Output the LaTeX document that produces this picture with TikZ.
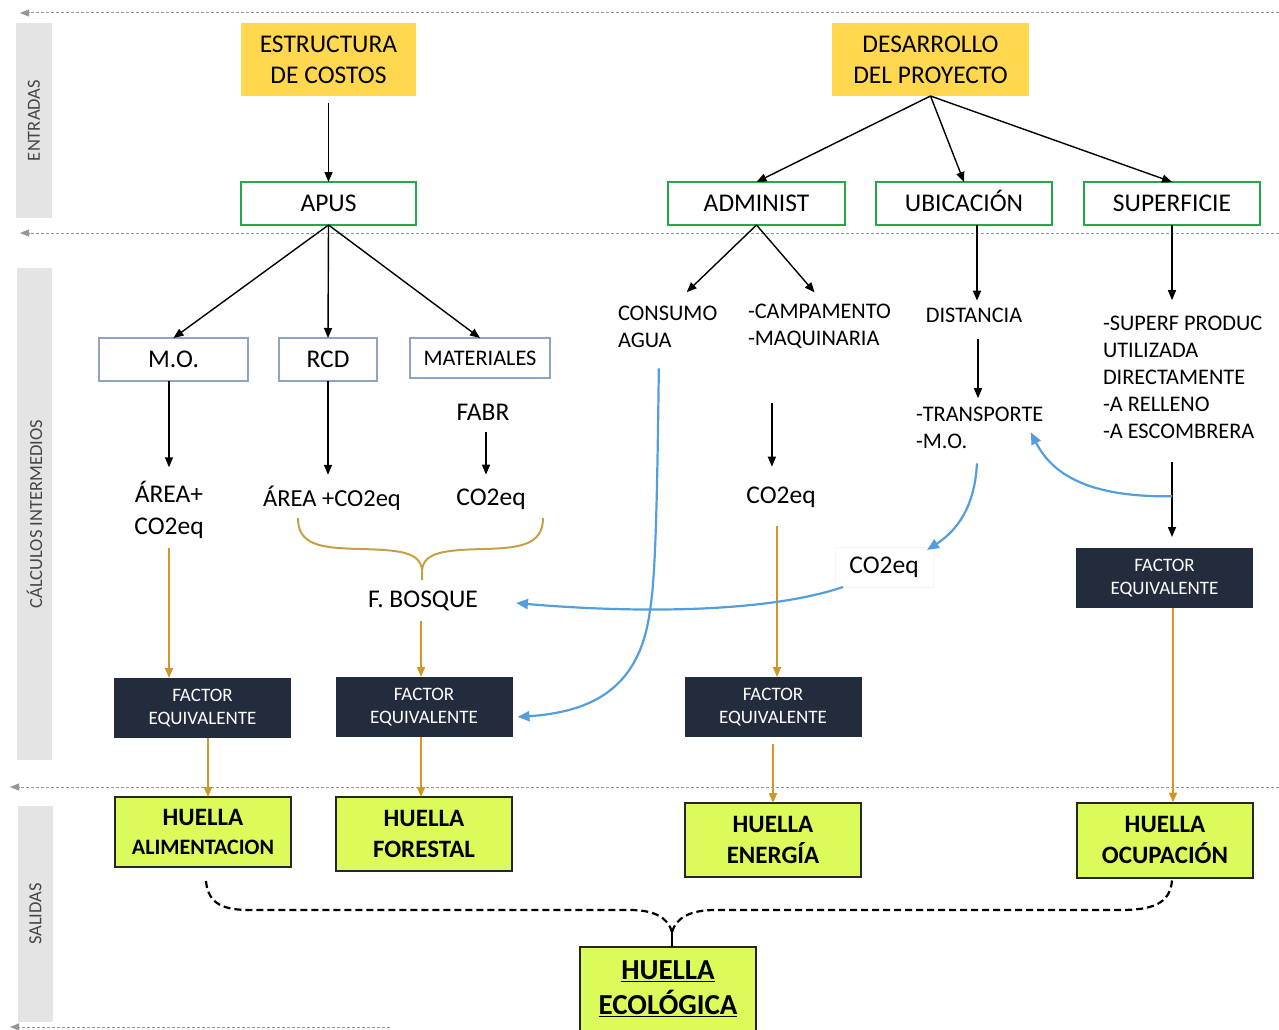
\documentclass[tikz,border=0pt]{standalone}
\usepackage{fontspec}
\setmainfont{Carlito}
\usetikzlibrary{arrows.meta}

\definecolor{cYel}{RGB}{255,216,80}
\definecolor{cGrn}{RGB}{38,168,72}
\definecolor{cSteel}{RGB}{143,163,196}
\definecolor{cNavy}{RGB}{35,44,61}
\definecolor{cLime}{RGB}{218,251,90}
\definecolor{cGold}{RGB}{206,152,40}
\definecolor{cBrace}{RGB}{198,160,70}
\definecolor{cBlue}{RGB}{84,158,222}
\definecolor{cBand}{RGB}{228,228,228}
\definecolor{cBandTxt}{RGB}{70,70,70}
\definecolor{cSep}{RGB}{150,150,150}

\begin{document}
\begin{tikzpicture}[x=1pt,y=-1pt,
  every node/.style={inner sep=0pt, outer sep=0pt},
  fbig/.style={font=\fontsize{25.5}{31}\selectfont},
  fmid/.style={font=\fontsize{22.3}{27}\selectfont},
  capbig/.style={text height=16.5pt, text depth=0pt},
  capmid/.style={text height=14.4pt, text depth=0pt},
  inbox/.style={fill=cYel, fbig, align=center},
  grnbox/.style={draw=cGrn, line width=2.2pt, fill=white, fbig, capbig, minimum height=43pt},
  blubox/.style={draw=cSteel, line width=1.2pt, fill=white},
  facbox/.style={fill=cNavy, text=white, font=\fontsize{19}{23}\selectfont, align=center,
                 minimum width=177pt, minimum height=60pt},
  outbox/.style={fill=cLime, draw=black!85, line width=2pt, align=center,
                 font=\bfseries\fontsize{25}{31}\selectfont, minimum width=176pt},
  txt/.style={fbig, align=center},
  txtm/.style={fmid, align=left},
  band/.style={fill=cBand, text=cBandTxt, rotate=90, font=\fontsize{18.5}{22}\selectfont},
  blk/.style={draw=black, line width=1.4pt, -{Triangle[length=10pt,width=8pt]}},
  gld/.style={draw=cGold, line width=2pt, -{Triangle[length=10pt,width=8pt]}},
  blu/.style={draw=cBlue, line width=2.2pt, -{Triangle[length=12pt,width=10pt]}},
  sepline/.style={draw=cSep, line width=1pt, dash pattern=on 3pt off 2pt,
                  -{Triangle[length=9pt,width=7pt]}},
  mergeline/.style={draw=black, line width=2.2pt, dash pattern=on 7pt off 4pt},
]
\useasboundingbox (0,0) rectangle (1279,1030);

% section separators
\draw[sepline] (1279,13) -- (20,13);
\draw[sepline] (1279,233) -- (20,233);
\draw[sepline] (1279,787) -- (10,787);
\draw[sepline] (390,1027) -- (10,1027);

% section bands
\node[band, minimum width=195pt, minimum height=36pt] (b1) at (34,120.5) {ENTRADAS};
\node[band, minimum width=492pt, minimum height=35pt] (b2) at (34.5,514) {CÁLCULOS INTERMEDIOS};
\node[band, minimum width=216pt, minimum height=35pt] (b3) at (35.5,914) {SALIDAS};

% inputs
\node[inbox, minimum width=175pt, minimum height=73pt] (estr) at (328.5,59.5) {ESTRUCTURA\\DE COSTOS};
\node[inbox, minimum width=197pt, minimum height=73pt] (desa) at (930.5,59.5) {DESARROLLO\\DEL PROYECTO};
\node[grnbox, minimum width=175pt] (apus) at (328.5,203.5) {APUS};
\node[grnbox, minimum width=177pt] (admin) at (756.5,203.5) {ADMINIST};
\node[grnbox, minimum width=176pt] (ubic) at (964,203.5) {UBICACIÓN};
\node[grnbox, minimum width=176pt] (sup) at (1172,203.5) {SUPERFICIE};

% intermediate boxes
\node[blubox, fbig, capbig, minimum width=149pt, minimum height=43pt] (mo) at (173.5,359.5) {M.O.};
\node[blubox, fbig, capbig, minimum width=98pt, minimum height=43pt] (rcd) at (328,359.5) {RCD};
\node[blubox, fmid, capmid, minimum width=140pt, minimum height=40pt] (mat) at (480,358) {MATERIALES};

% intermediate texts
\node[txtm, anchor=west] (agua) at (618,326.5) {CONSUMO\\AGUA};
\node[txtm, anchor=west] (camp) at (748,326) {-CAMPAMENTO\\-MAQUINARIA};
\node[txtm] (dist) at (974,315) {DISTANCIA};
\node[txtm, anchor=west] (trans) at (916,427.5) {-TRANSPORTE\\-M.O.};
\node[txtm, anchor=west] (supf) at (1103,377) {-SUPERF PRODUC\\UTILIZADA\\DIRECTAMENTE\\-A RELLENO\\-A ESCOMBRERA};
\node[txt, font=\fontsize{25.5}{32}\selectfont] (area1) at (169,510) {ÁREA+\\CO2eq};
\node[txt, font=\fontsize{24.5}{30}\selectfont] (area2) at (332,498) {ÁREA +CO2eq};
\node[txt] (fabr) at (483,412) {FABR};
\node[txt] (co2a) at (491,499) {CO2eq};
\node[txt] (bosq) at (423,601) {F. BOSQUE};
\node[txt] (co2b) at (781,497) {CO2eq};
\node[txt, fill=white, draw=black!4, minimum width=98pt, minimum height=40pt] (co2c) at (884,567) {CO2eq};

% equivalence factors
\node[facbox] (fac1) at (202.5,708) {FACTOR\\EQUIVALENTE};
\node[facbox] (fac2) at (424,707) {FACTOR\\EQUIVALENTE};
\node[facbox] (fac3) at (773,707) {FACTOR\\EQUIVALENTE};
\node[facbox] (fac4) at (1164.5,578) {FACTOR\\EQUIVALENTE};

% outputs
\node[outbox, minimum height=70pt, font=\bfseries\fontsize{25}{29}\selectfont] (hue1) at (203,832)
  {HUELLA\\{\fontsize{22}{29}\selectfont ALIMENTACION}};
\node[outbox, minimum height=74pt] (hue2) at (424,834) {HUELLA\\FORESTAL};
\node[outbox, minimum height=74pt] (hue3) at (773,840) {HUELLA\\ENERGÍA};
\node[outbox, minimum height=75pt] (hue4) at (1165,840) {HUELLA\\OCUPACIÓN};
\node[outbox, minimum height=84pt, font=\bfseries\fontsize{29}{35}\selectfont] (eco) at (668,989)
  {\underline{HUELLA}\\\underline{ECOLÓGICA}};

% input links
\draw[blk, shorten <=7pt] (estr) -- (apus);
\draw[blk] (desa.south) -- (admin.north);
\draw[blk] (desa.south) -- (ubic.north);
\draw[blk] (desa.south) -- (sup.north);
\draw[blk] (apus.south) -- (mo.north);
\draw[blk] (apus.south) -- (rcd.north);
\draw[blk] (apus.south) -- (mat.north);
\draw[blk, shorten >=19.5pt] (admin.south) -- ([xshift=5pt]agua.north);
\draw[blk, shorten >=15pt] (admin.south) -- ([xshift=5pt]camp.north);
\draw[blk, shorten >=7pt] ([xshift=13pt]ubic.south) -- ([xshift=3pt]dist.north);
\draw[blk, shorten >=15.5pt] (sup.south) -- (sup.south |- supf.north);

% intermediate links
\draw[blk, shorten >=14pt] ([xshift=-4.5pt]mo.south) -- ([xshift=-4.5pt]mo.south |- area1.north);
\draw[blk, shorten >=11pt] (rcd.south) -- (rcd.south |- area2.north);
\draw[blk, shorten <=12pt, shorten >=14pt] ([xshift=3pt]fabr.south) -- ([xshift=3pt]fabr.south |- co2a.north);
\draw[blk, shorten <=55pt, shorten >=20pt] ([xshift=-47.5pt]camp.south) -- ([xshift=-47.5pt]camp.south |- co2b.north);
\draw[blk, shorten <=17pt, shorten >=8.5pt] ([xshift=4pt]dist.south) -- ([xshift=4pt]dist.south |- trans.north);
\draw[blk, shorten <=24pt, shorten >=11pt] (sup.south |- supf.south) -- (sup.south |- fac4.north);

% brace gathering forest inputs
\draw[cBrace, line width=2pt]
  (298,518) .. controls (298,545) and (320,548) .. (360,549)
            .. controls (400,550) and (420,552) .. (422,570)
  (543,518) .. controls (543,545) and (520,548) .. (484,549)
            .. controls (445,550) and (424,552) .. (422,570)
  (422,570) -- (422,580);

% flows towards the factors
\draw[gld, shorten <=9pt] (area1.south) -- (area1.south |- fac1.north);
\draw[gld, shorten <=10pt] ([xshift=-2pt]bosq.south) -- ([xshift=-2pt]bosq.south |- fac2.north);
\draw[gld, shorten <=19pt] ([xshift=-4pt]co2b.south) -- ([xshift=-4pt]co2b.south |- fac3.north);
\draw[gld] ([xshift=5.5pt]fac1.south) -- ([xshift=5.5pt]fac1.south |- hue1.north);
\draw[gld] ([xshift=-3pt]fac2.south) -- ([xshift=-3pt]fac2.south |- hue2.north);
\draw[gld, shorten <=7pt] (fac3.south) -- (fac3.south |- hue3.north);
\draw[gld] ([xshift=8.5pt]fac4.south) -- ([xshift=8.5pt]fac4.south |- hue4.north);

% cross links
\draw[blu] ([yshift=-58pt]sup.south |- supf.south)
  .. controls +(-82,1) and +(22,43) .. ([xshift=-12.5pt, yshift=16pt]trans.south east);
\draw[blu] ([xshift=-2.7pt, yshift=-15pt]trans.south)
  .. controls +(-2,42) and +(31,-20) .. ([xshift=-6pt, yshift=-3pt]co2c.north east);
\draw[blu] ([xshift=8pt]co2c.south west)
  .. controls +(-83,28) and +(103,9) .. ([xshift=38pt, yshift=-2pt]bosq.east);
\draw[blu] ([xshift=-8.8pt, yshift=-21pt]agua.south)
  .. controls (657,520) and (655,580) .. (650,610)
  .. controls (640,690) and (590,712) .. ([xshift=5pt, yshift=-10pt]fac2.east);

% aggregation into the ecological footprint
\coordinate (merge) at ([xshift=4pt, yshift=15pt]eco.north);
\draw[mergeline] ([xshift=3pt, yshift=-14pt]hue1.south)
  .. controls (208,905) and (225,910) .. (250,910) -- (630,910)
  .. controls (655,910) and (668,918) .. (merge);
\draw[mergeline] ([xshift=7pt, yshift=-3pt]hue4.south)
  .. controls (1170,905) and (1150,910) .. (1120,910) -- (715,910)
  .. controls (690,910) and (676,918) .. (merge);
\draw[black, line width=2pt] (merge) -- ([xshift=4pt]eco.north);
\end{tikzpicture}
\end{document}
